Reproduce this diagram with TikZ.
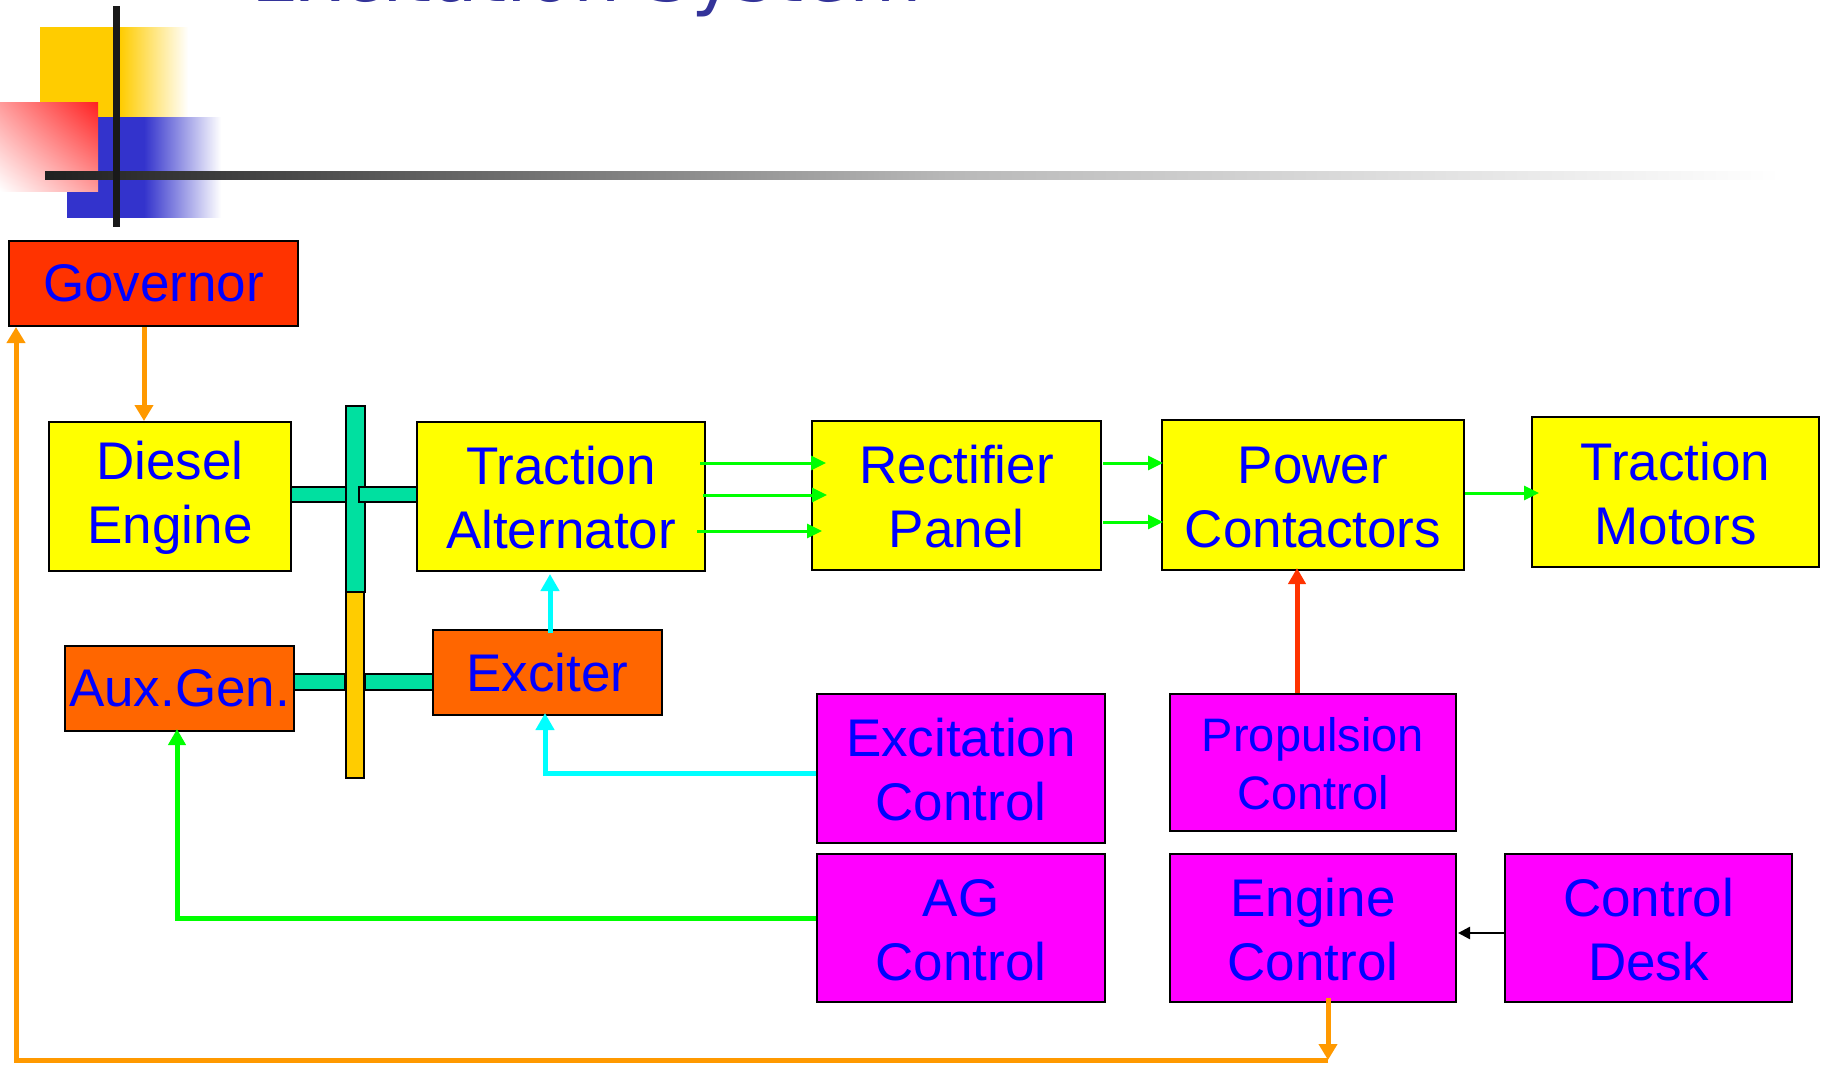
\documentclass[tikz,border=0pt]{standalone}
\usepackage{fontspec}
\setmainfont{Liberation Sans}
\newfontfamily\titlefont{DejaVu Sans}
\usetikzlibrary{arrows.meta,shadings}
\definecolor{txtblue}{HTML}{0000FF}
\definecolor{titleblue}{HTML}{333399}
\definecolor{govred}{HTML}{FF3300}
\definecolor{boxyel}{HTML}{FFFF00}
\definecolor{boxorg}{HTML}{FF6600}
\definecolor{boxmag}{HTML}{FF00FF}
\definecolor{shaftgrn}{HTML}{00E0A0}
\definecolor{shaftorg}{HTML}{FFCC00}
\definecolor{decoY}{HTML}{FFCC00}
\definecolor{decoB}{HTML}{3333CC}
\definecolor{decoR}{HTML}{FF2020}
\definecolor{decoRm}{HTML}{FF9A9A}
\definecolor{lgreen}{HTML}{00FF00}
\definecolor{lcyan}{HTML}{00FFFF}
\definecolor{lorange}{HTML}{FF9900}
\definecolor{lred}{HTML}{FF3300}
\definecolor{darkline}{HTML}{202020}
\definecolor{midline}{HTML}{B8B8B8}
\pgfdeclarehorizontalshading{yfade}{100bp}{color(0bp)=(decoY); color(25bp)=(decoY); color(52bp)=(decoY); color(75bp)=(white); color(100bp)=(white)}
\pgfdeclarehorizontalshading{bfade}{100bp}{color(0bp)=(decoB); color(25bp)=(decoB); color(50bp)=(decoB); color(75bp)=(white); color(100bp)=(white)}
\pgfdeclarehorizontalshading{lfade}{100bp}{color(0bp)=(darkline); color(25bp)=(darkline); color(51bp)=(midline); color(75bp)=(white); color(100bp)=(white)}
\newcommand{\tstrut}{\rule{0pt}{0.77em}}
\begin{document}
\begin{tikzpicture}[x=1pt,y=-1pt,
  box/.style={draw=black, line width=2pt, align=center, text=txtblue,
    font=\fontsize{53}{64}\selectfont, inner sep=0pt},
  shaftbar/.style={draw=black, line width=2pt},
  garrow/.style={draw=lgreen, line width=3pt, -{Triangle[length=15pt,width=14pt]}},
  carrow/.style={draw=lcyan, line width=5pt, -{Triangle[length=17pt,width=18pt]}},
  oarrow/.style={draw=lorange, line width=5pt, -{Triangle[length=16pt,width=18pt]}},
  rarrow/.style={draw=lred, line width=5pt, -{Triangle[length=16pt,width=17pt]}},
  agarrow/.style={draw=lgreen, line width=5pt, -{Triangle[length=16pt,width=17pt]}},
  karrow/.style={draw=black, line width=2.5pt, -{Triangle[length=12pt,width=12pt]}}
]
\useasboundingbox (0,0) rectangle (1825,1065);
\fill[white] (0,0) rectangle (1825,1065);

% decoration
\shade[shading=yfade] (40,28) rectangle (188,117);
\shade[shading=bfade] (67,117) rectangle (221,217);
\shade[upper right=decoR, lower left=white, upper left=decoRm, lower right=decoRm] (0,102) rectangle (98,191);
\shade[shading=lfade] (45,171) rectangle (1780,179);
\fill[black!90] (113,6) rectangle (120,227);

% title (mostly cut off at the top)
\node[anchor=base west, inner sep=0pt, text=titleblue, font=\titlefont\fontsize{74.5}{90}\selectfont] (title) at (251,1.5) {Excitation System};

% boxes
\node[box, fill=govred, minimum width=289pt, minimum height=85pt] (gov) at (153.5,283.5) {Governor};
\node[box, fill=boxyel, minimum width=242pt, minimum height=149pt] (de) at (170,496.5) {\tstrut Diesel\\Engine};
\node[box, fill=boxyel, minimum width=288pt, minimum height=149pt] (ta) at (561,496.5) {\tstrut Traction\\Alternator};
\node[box, fill=boxyel, minimum width=289pt, minimum height=149pt] (rp) at (956.5,495.5) {\tstrut Rectifier\\Panel};
\node[box, fill=boxyel, minimum width=302pt, minimum height=150pt] (pc) at (1313,495) {\tstrut Power\\Contactors};
\node[box, fill=boxyel, minimum width=287pt, minimum height=150pt] (tm) at (1675.5,492) {\tstrut Traction\\Motors};
\node[box, fill=boxorg, minimum width=229pt, minimum height=85pt] (ag) at (179.5,688.5) {Aux.Gen.};
\node[box, fill=boxorg, minimum width=229pt, minimum height=85pt] (ex) at (547.5,672.5) {Exciter};
\node[box, fill=boxmag, minimum width=288pt, minimum height=149pt] (ec) at (961,768.5) {\tstrut Excitation\\Control};
\node[box, fill=boxmag, minimum width=286pt, minimum height=137pt, font=\fontsize{47}{58}\selectfont] (pcc) at (1313,762.5) {\tstrut Propulsion\\Control};
\node[box, fill=boxmag, minimum width=288pt, minimum height=148pt] (agc) at (961,928) {\tstrut AG\\Control};
\node[box, fill=boxmag, minimum width=286pt, minimum height=148pt] (engc) at (1313,928) {\tstrut Engine\\Control};
\node[box, fill=boxmag, minimum width=287pt, minimum height=148pt] (cd) at (1648.5,928) {\tstrut Control\\Desk};

% shafts and couplings
\filldraw[shaftbar, fill=shaftgrn] (346,406) rectangle (365,592);
\filldraw[shaftbar, fill=shaftorg] (346,592) rectangle (364,778);
\filldraw[shaftbar, fill=shaftgrn] (291,487) rectangle (346,502);
\filldraw[shaftbar, fill=shaftgrn] (359,487) rectangle (417,502);
\filldraw[shaftbar, fill=shaftgrn] (294,674) rectangle (345,690);
\filldraw[shaftbar, fill=shaftgrn] (365,674) rectangle (433,690);

% connectors
\draw[oarrow] ([xshift=-9.5pt]gov.south) -- ([xshift=-26pt]de.north);
\draw[garrow] ([xshift=-6pt,yshift=33.5pt]ta.east) -- ([xshift=15pt,yshift=32.5pt]rp.west);
\draw[garrow] ([xshift=-3pt,yshift=1.5pt]ta.east) -- ([xshift=16pt,yshift=0.5pt]rp.west);
\draw[garrow] ([xshift=-9pt,yshift=-34.5pt]ta.east) -- ([xshift=11pt,yshift=-35.5pt]rp.west);
\draw[garrow] ([xshift=1pt,yshift=32.5pt]rp.east) -- ([xshift=2pt,yshift=32pt]pc.west);
\draw[garrow] ([xshift=1pt,yshift=-26.5pt]rp.east) -- ([xshift=2pt,yshift=-27pt]pc.west);
\draw[garrow] ([yshift=2pt]pc.east) -- ([xshift=8pt,yshift=-1pt]tm.west);
\draw[carrow] ([xshift=2.5pt,yshift=-4pt]ex.north) -- ([xshift=-11pt,yshift=-2pt]ta.south);
\draw[carrow] ([yshift=-4.5pt]ec.west) -| ([xshift=-2.5pt,yshift=3pt]ex.south);
\draw[rarrow] ([xshift=-16pt]pcc.north) -- ([xshift=-16pt,yshift=3pt]pc.south);
\draw[agarrow] ([yshift=10pt]agc.west) -| ([xshift=-2.5pt,yshift=3pt]ag.south);
\draw[karrow] ([yshift=-5pt]cd.west) -- ([xshift=1pt,yshift=-5pt]engc.east);
\coordinate (bl) at (1328,1060);
\draw[oarrow] ([xshift=15pt,yshift=5pt]engc.south) -- (bl);
\draw[oarrow] (bl) -| ([xshift=8pt]gov.south west);
\end{tikzpicture}
\end{document}
